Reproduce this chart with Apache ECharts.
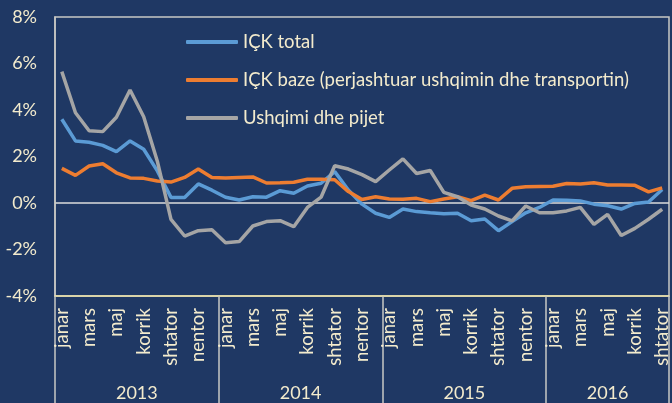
<!DOCTYPE html>
<html>
<head>
<meta charset="utf-8">
<script src="https://cdn.jsdelivr.net/npm/echarts@6/dist/echarts.min.js"></script>
<style>
  html, body { margin: 0; padding: 0; background: #1f3864; }
  #chart { width: 672px; height: 403px; }
</style>
</head>
<body>
<div id="chart"></div>
<script>
// muajt (janar 2013 - shtator 2016)
var monthNames = ['janar', 'shkurt', 'mars', 'prill', 'maj', 'qershor', 'korrik', 'gusht', 'shtator', 'tetor', 'nentor', 'dhjetor'];
var years = ['2013', '2014', '2015', '2016'];
var months = [];
years.forEach(function (y) {
	monthNames.forEach(function (m) {
		if (months.length < 45) months.push(m);
	});
});

var ickTotal = [
	3.60, 2.67, 2.61, 2.48, 2.21, 2.67, 2.31, 1.38, 0.24, 0.24, 0.82, 0.55,
	0.25, 0.13, 0.27, 0.25, 0.53, 0.42, 0.73, 0.85, 1.35, 0.56, -0.05,
	-0.44, -0.62, -0.26, -0.37, -0.42, -0.46, -0.44, -0.76, -0.69, -1.19, -0.80,
	-0.42, -0.19, 0.13, 0.12, 0.09, -0.05, -0.12, -0.26, -0.02, 0.04, 0.58
];
var ickBaze = [
	1.49, 1.19, 1.59, 1.69, 1.30, 1.08, 1.06, 0.95, 0.90, 1.10, 1.46, 1.10,
	1.08, 1.10, 1.12, 0.86, 0.87, 0.89, 1.02, 1.02, 1.00, 0.49, 0.15,
	0.27, 0.17, 0.16, 0.20, 0.06, 0.17, 0.27, 0.10, 0.34, 0.13, 0.63,
	0.70, 0.71, 0.72, 0.84, 0.82, 0.87, 0.77, 0.77, 0.76, 0.48, 0.65
];
var ushqimi = [
	5.65, 3.88, 3.11, 3.07, 3.69, 4.86, 3.71, 1.80, -0.70, -1.42, -1.19, -1.15,
	-1.71, -1.66, -0.99, -0.80, -0.76, -1.02, -0.19, 0.25, 1.60, 1.46, 1.22,
	0.92, 1.42, 1.90, 1.27, 1.40, 0.46, 0.27, -0.09, -0.26, -0.56, -0.77,
	-0.13, -0.42, -0.42, -0.34, -0.19, -0.92, -0.49, -1.40, -1.09, -0.70, -0.27
];
// pozicioni i etiketave te viteve (ne mes te cdo viti)
var yearPos = { '6': '2013', '18': '2014', '30': '2015', '40.5': '2016' };

var textColor = '#f3ebcd';
var font = 'Lato';

var chart = echarts.init(document.getElementById('chart'), null, { renderer: 'canvas' });

function lineSeries(name, data, color) {
	return {
		name: name,
		type: 'line',
		data: data,
		symbol: 'none',
		smooth: false,
		lineStyle: { color: color, width: 3.5 },
		itemStyle: { color: color }
	};
}

chart.setOption({
	backgroundColor: '#1f3864',
	animation: false,
	textStyle: { fontFamily: font },
	grid: {
		left: 55,
		right: -3,
		top: 17,
		bottom: 107,
		show: true,
		borderColor: '#c8c8c4',
		borderWidth: 1.5
	},
	legend: {
		orient: 'vertical',
		left: 186,
		top: 32,
		padding: 0,
		itemWidth: 52,
		itemHeight: 4,
		itemGap: 18,
		icon: 'roundRect',
		textStyle: { color: textColor, fontSize: 18.5, lineHeight: 20, fontFamily: font },
		data: ['IÇK total', 'IÇK baze (perjashtuar ushqimin dhe transportin)', 'Ushqimi dhe pijet']
	},
	xAxis: [
		{
			type: 'category',
			data: months,
			boundaryGap: true,
			axisLine: { show: true, onZero: false, lineStyle: { color: '#eee3a8', width: 1.5 } },
			axisTick: {
				show: true,
				inside: false,
				length: 107,
				interval: function (idx) { return idx % 12 === 0; },
				lineStyle: { color: '#c8c8c4', width: 1.5 }
			},
			axisLabel: {
				interval: 1,
				rotate: 90,
				margin: 12,
				color: textColor,
				fontSize: 18.5,
				fontFamily: font
			},
			splitLine: { show: false }
		},
		{
			type: 'value',
			position: 'bottom',
			min: 0,
			max: 45,
			interval: 0.5,
			axisLine: { show: false, onZero: false },
			axisTick: { show: false },
			splitLine: { show: false },
			axisLabel: {
				margin: 88,
				color: textColor,
				fontSize: 18,
				fontFamily: font,
				formatter: function (v) { return yearPos[String(v)] || ''; }
			}
		}
	],
	yAxis: {
		type: 'value',
		min: -4,
		max: 8,
		interval: 2,
		axisLine: { show: true, lineStyle: { color: '#c8c8c4', width: 1.5 } },
		axisTick: { show: false },
		axisLabel: {
			formatter: '{value}%',
			color: textColor,
			fontSize: 18,
			margin: 18,
			fontFamily: font
		},
		splitLine: {
			show: true,
			lineStyle: {
				color: ['rgba(0,0,0,0)', 'rgba(0,0,0,0)', '#dcdcdc', 'rgba(0,0,0,0)', 'rgba(0,0,0,0)', 'rgba(0,0,0,0)', 'rgba(0,0,0,0)'],
				width: 1.5
			}
		}
	},
	series: [
		lineSeries('IÇK total', ickTotal, '#5b9bd5'),
		lineSeries('IÇK baze (perjashtuar ushqimin dhe transportin)', ickBaze, '#ed7d31'),
		lineSeries('Ushqimi dhe pijet', ushqimi, '#a5a5a5')
	]
});
</script>
</body>
</html>
